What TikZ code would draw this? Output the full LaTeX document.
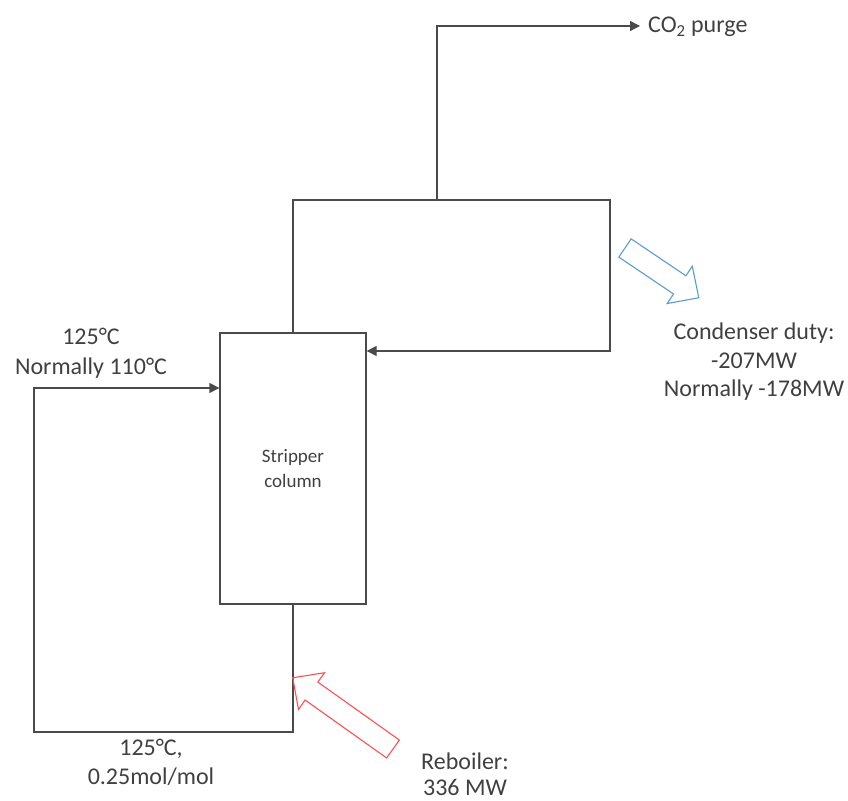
\documentclass[tikz,border=0pt]{standalone}
\usepackage{fontspec}
\setmainfont{Carlito}
\usetikzlibrary{arrows.meta}
\definecolor{txt}{HTML}{404040}
\definecolor{ln}{HTML}{4A4A4A}
\definecolor{blu}{HTML}{5B9BD5}
\definecolor{rd}{HTML}{FF5050}
\begin{document}
\begin{tikzpicture}[x=1pt,y=1pt,
  lbl/.style={text=txt,font=\fontsize{24}{29}\selectfont,align=center,inner sep=0pt,anchor=base},
  pipe/.style={draw=ln,line width=1.3pt},
  flow/.style={pipe,-{Triangle[length=10pt,width=10pt]}},
  colbox/.style={draw=ln,line width=1.3pt,minimum width=146pt,minimum height=271pt,inner sep=0pt,
    text=txt,font=\fontsize{19}{25}\selectfont,align=center}]
\useasboundingbox (0,0) rectangle (848,800);
\node[colbox] (col) at (293,331.5) {Stripper\\column};
\coordinate (t1) at (293,600);
\coordinate (t2) at (610,600);
\coordinate (t3) at (610,449);
\coordinate (v1) at (437,600);
\coordinate (v2) at (437,774);
\coordinate (b1) at (293,68);
\coordinate (b2) at (34,68);
\coordinate (b3) at (34,412);
\node[lbl,anchor=base west,inner xsep=8pt] (co2) at (640,767) {CO\textsubscript{2} purge};
\draw[flow] (col.north) -- (t1) -- (t2) -- (t3) -- (col.east |- t3);
\draw[flow] (v1) -- (v2) -- (co2.west |- v2);
\draw[flow] (col.south) -- (b1) -- (b2) -- (b3) -- (col.west |- b3);
\node[lbl,font=\fontsize{24}{30}\selectfont] (feed) at (91,425) {125°C\\Normally 110°C};
\node[lbl,font=\fontsize{24}{29}\selectfont] (bot) at (151,16) {125°C,\\0.25mol/mol};
\node[lbl,font=\fontsize{24}{26}\selectfont] (reb) at (465,5) {Reboiler:\\336 MW};
\node[lbl,font=\fontsize{24}{28.5}\selectfont] (cond) at (754,403) {Condenser duty:\\-207MW\\Normally -178MW};
% condenser duty arrow (blue)
\begin{scope}[shift={(625,552)},rotate=-34]
\draw[blu,line width=1.1pt,line join=miter] (0,-11)--(66,-11)--(66,-22.5)--(89,0)--(66,22.5)--(66,11)--(0,11)--cycle;
\end{scope}
% reboiler duty arrow (red)
\begin{scope}[shift={(393,51)},rotate=144.6]
\draw[rd,line width=1.1pt,line join=miter] (0,-11)--(100,-11)--(100,-22.5)--(123,0)--(100,22.5)--(100,11)--(0,11)--cycle;
\end{scope}
\end{tikzpicture}
\end{document}
